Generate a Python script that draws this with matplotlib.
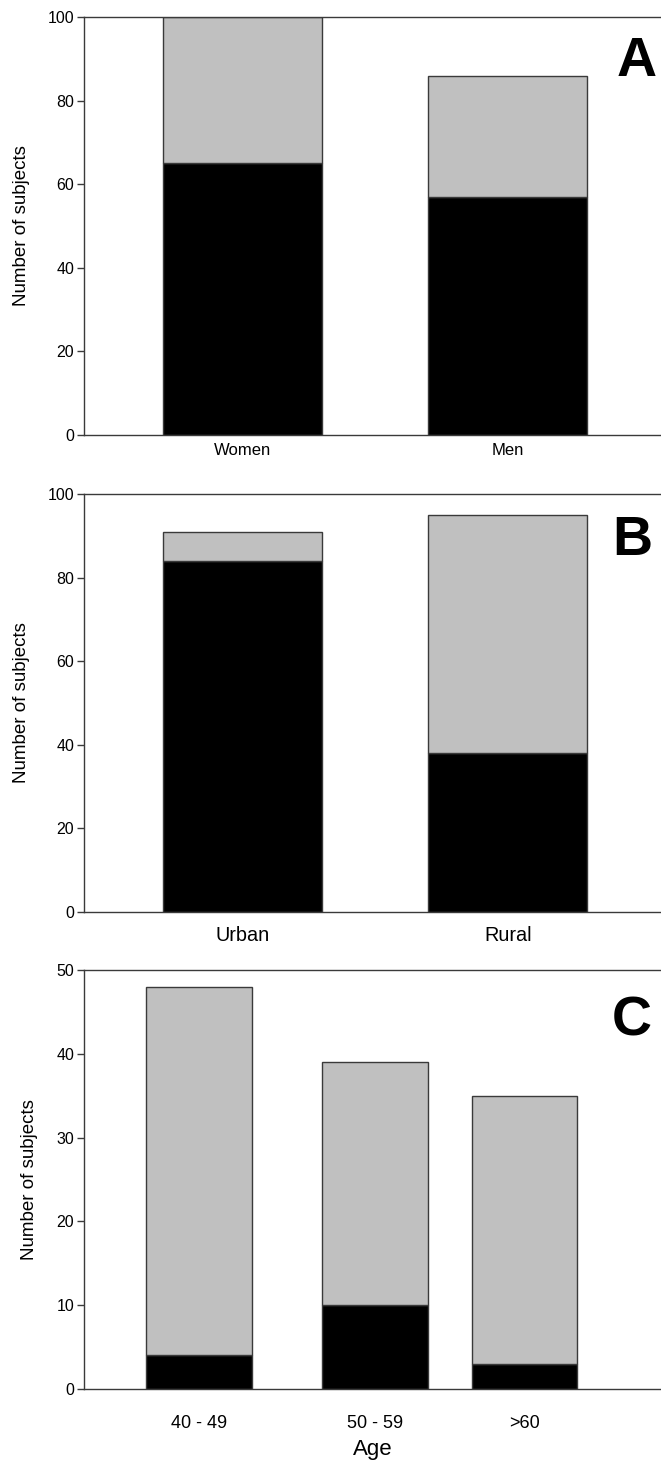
import numpy as np
import matplotlib
matplotlib.use("Agg")
import matplotlib.pyplot as plt

plt.rcParams['font.family'] = ['Liberation Sans', 'DejaVu Sans']

# --- data
sex_labels = ["Women", "Men"]
sex_pos = [0, 1]
sex_black = [65, 57]
sex_total = [100, 86]

area_labels = ["Urban", "Rural"]
area_pos = [0, 1]
area_black = [84, 38]
area_total = [91, 95]

age_labels = ["40 - 49", "50 - 59", ">60"]
age_pos = [0, 1, 1.85]
age_black = [4, 10, 3]
age_total = [48, 39, 35]

# --- setup
W, H = 661, 1463
fig = plt.figure(figsize=(W/100, H/100), dpi=100)
edge = "#3a3a3a"
gray = "#c0c0c0"

def make_axes(top_px, bot_px):
    left = 84/W
    return fig.add_axes([left, 1-bot_px/H, 1.0-left, (bot_px-top_px)/H])

def panel(ax, x, labels, black, total, ymax, yticks, xlim, letter, letter_xy, xfs, xpad):
    grey_part = np.array(total) - np.array(black)
    ax.bar(x, black, width=0.6, color="black", edgecolor=edge, lw=1)
    ax.bar(x, grey_part, bottom=black, width=0.6, color=gray, edgecolor=edge, lw=1)
    ax.set_xlim(*xlim)
    ax.set_ylim(0, ymax)
    ax.set_yticks(yticks)
    ax.set_xticks(x)
    ax.set_xticklabels(labels, fontsize=xfs)
    ax.tick_params(axis="x", length=0, pad=xpad)
    ax.tick_params(axis="y", direction="out", length=5, width=1, color=edge,
                   labelsize=11.5, pad=2)
    for s in ["left", "bottom", "top"]:
        ax.spines[s].set_color(edge)
        ax.spines[s].set_linewidth(1)
    ax.spines["right"].set_visible(False)
    ax.set_ylabel("Number of subjects", fontsize=13.5)
    ax.text(letter_xy[0], letter_xy[1], letter, transform=ax.transAxes, fontsize=40,
            fontweight="bold", ha="center", va="center")

axA = make_axes(17, 435)
panel(axA, sex_pos, sex_labels, sex_black, sex_total, 100, np.arange(0, 101, 20),
      (-0.6, 1.578), "A", (0.958, 0.892), 12, 6)
axA.yaxis.set_label_coords(-0.094, 0.5)

axB = make_axes(494, 912)
panel(axB, area_pos, area_labels, area_black, area_total, 100, np.arange(0, 101, 20),
      (-0.6, 1.578), "B", (0.950, 0.888), 14.3, 10)
axB.yaxis.set_label_coords(-0.094, 0.5)

axC = make_axes(970, 1389)
panel(axC, age_pos, age_labels, age_black, age_total, 50, np.arange(0, 51, 10),
      (-0.653, 2.625), "C", (0.950, 0.876), 13, 19)
axC.set_xlabel("Age", fontsize=16, labelpad=5)
axC.yaxis.set_label_coords(-0.08, 0.5)

fig.savefig("out.png", dpi=100)
